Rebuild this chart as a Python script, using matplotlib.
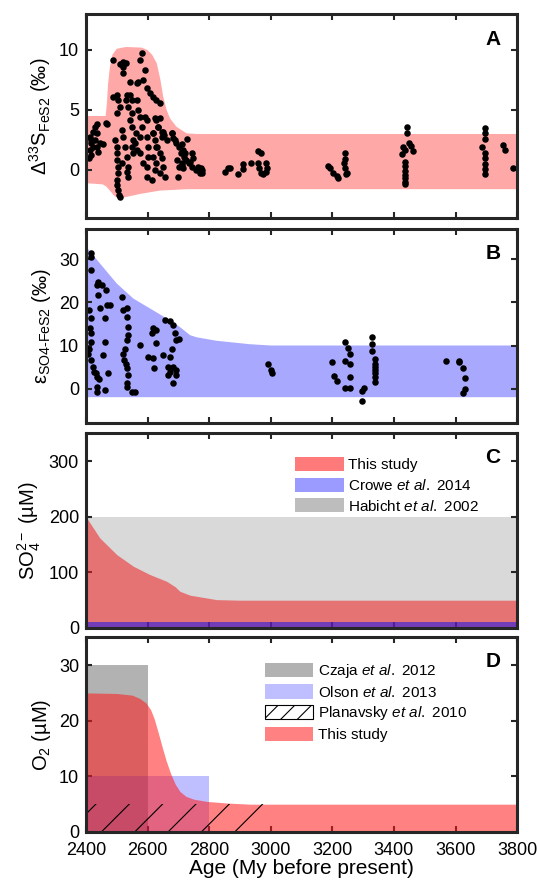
import matplotlib
matplotlib.use("Agg")
import matplotlib.pyplot as plt
from matplotlib.patches import Patch

# 4단 패널(A~D) 그림을 다시 그리는 코드.

plt.rcParams['font.family'] = ['Liberation Sans', 'DejaVu Sans']
plt.rcParams['mathtext.fontset'] = 'custom'
plt.rcParams['mathtext.rm'] = 'Liberation Sans'
plt.rcParams['mathtext.it'] = 'Liberation Sans:italic'
plt.rcParams['mathtext.bf'] = 'Liberation Sans:bold'
plt.rcParams['hatch.linewidth'] = 0.8

# ---------------- 데이터 ----------------
AGE_TICKS = [2400, 2600, 2800, 3000, 3200, 3400, 3600, 3800]

# A: Δ33S 범위 (위/아래 경계)
A_UPPER_AGE = [2400, 2464, 2468, 2472, 2478, 2486, 2500, 2530, 2580, 2600, 2615, 2630, 2642, 2651, 2662, 2673, 2694, 2727, 2760, 3800]
A_UPPER = [4.5, 4.5, 5.5, 7.2, 8.6, 9.6, 10.1, 10.25, 10.2, 10.0, 9.6, 8.9, 7.5, 6.1, 5.0, 4.3, 3.6, 3.05, 3.0, 3.0]
A_LOWER_AGE = [2400, 2455, 2467, 2494, 2510, 2540, 2575, 2640, 2727, 3800]
A_LOWER = [-1.1, -1.2, -1.4, -2.2, -2.35, -2.2, -2.0, -1.72, -1.6, -1.6]

# A: 시료 점
A_AGE = [2413, 2415, 2413, 2418, 2411, 2424, 2429, 2435, 2437, 2429, 2435, 2440, 2424, 2445, 2418, 2465, 2469, 2456,
         2489, 2500, 2505, 2510, 2502, 2494, 2500, 2500, 2502, 2505, 2505, 2500, 2502, 2505, 2508, 2510, 2516,
         2516, 2521, 2527, 2532, 2537, 2537, 2532, 2530, 2534, 2543, 2548, 2537, 2548, 2543, 2521, 2521, 2521, 2530,
         2489, 2510, 2543, 2551, 2554, 2548, 2559, 2554, 2565, 2570, 2575, 2581, 2586, 2591, 2597, 2565, 2570, 2575,
         2581, 2562, 2567, 2575, 2586, 2575, 2591, 2597, 2597, 2602, 2602, 2597, 2597, 2608, 2618, 2629, 2640, 2629,
         2635, 2618, 2624, 2629, 2618, 2629, 2624, 2613, 2640, 2651, 2656, 2646, 2651, 2662, 2678, 2683, 2692, 2702,
         2708, 2697, 2702, 2713, 2718, 2724, 2735, 2746, 2757, 2770, 2775, 2624, 2640, 2635, 2619, 2646, 2653, 2678,
         2689, 2711, 2727, 2716, 2721, 2743, 2749, 2738, 2765, 2776, 2776, 2711, 2716, 2700, 2630, 2640, 2646,
         2851, 2862, 2868, 2895, 2909, 2911, 2935, 2960, 2967, 2960, 2963, 2967, 2976, 2985, 2987, 2985,
         3187, 3192, 3203, 3214, 3219, 3241, 3241, 3238, 3241, 3247, 3244,
         3444, 3444, 3450, 3454, 3463, 3431, 3425, 3436, 3436, 3436, 3436, 3436, 3436, 3436, 3436,
         3696, 3696, 3696, 3685, 3696, 3696, 3696, 3696, 3696, 3755, 3761, 3788]
A_D33S = [2.78, 2.22, 1.67, 1.25, 0.97, 3.19, 3.61, 3.83, 3.06, 2.5, 1.94, 1.53, 1.94, 2.22, 2.5, 3.89, 3.83, 2.17,
          6.11, 6.25, 5.83, 5.28, 4.72, 2.5, 1.94, 1.39, 0.83, 0.28, -0.28, -0.83, -1.25, -1.67, -2.08, -2.28, 0.56,
          3.33, 2.78, 1.94, 1.11, 0.28, -0.56, -0.14, 5.83, 6.25, 6.25, 5.83, 5.28, 4.72, 7.36, 8.06, 8.61, 9.03, 8.89,
          9.17, 8.83, 4.17, 3.61, 2.5, 1.94, 2.22, 1.39, 7.22, 7.36, 9.17, 9.72, 7.5, 8.33, 6.81, 5.83, 5.0, 4.44,
          3.61, 3.06, 1.67, 1.39, 0.56, 2.78, 4.44, 4.17, 2.78, 1.94, 1.11, 0.28, -0.56, 6.39, 6.11, 5.83, 5.56, 4.17,
          3.61, 3.06, 2.5, 1.94, 1.11, 0.56, 0.0, -0.83, -0.28, 0.28, -0.56, 2.78, 3.19, 2.5, 3.06, 2.64, 2.22, 1.94,
          1.39, 0.83, 0.28, 0.42, 1.11, 0.83, 0.56, 0.28, 0.0, -0.28, 0.14, 4.3, 4.3, 3.6, 3.05, 3.2, 2.9, 3.1,
          2.5, 2.2, 2.6, 1.67, 1.4, 1.4, 0.97, 0.7, 0.28, 0.0, -0.28, 0.55, 0.14, -0.55, 1.95, 1.4, 0.97,
          -0.14, 0.14, 0.14, -0.33, 0.06, 0.5, 0.6, 1.6, 1.4, 0.55, 0.14, -0.28, -0.33, 0.55, 0.14, -0.14,
          0.33, 0.14, -0.28, -0.5, -0.7, 1.45, 0.89, 0.55, 0.14, -0.22, -0.33,
          3.55, 3.1, 2.28, 2.0, 1.6, 1.9, 1.33, 1.67, 0.7, 0.33, -0.05, -0.42, -0.7, -0.97, -1.17,
          3.47, 3.1, 2.56, 1.95, 1.45, 0.97, 0.5, 0.06, -0.33, 2.08, 1.67, 0.14]

# B: ε 범위
B_UPPER_AGE = [2400, 2445, 2500, 2554, 2608, 2662, 2705, 2738, 2760, 2824, 2932, 3000, 3800]
B_UPPER = [33, 29.1, 24.4, 20.9, 18.6, 16.3, 14.3, 12.4, 11.9, 11.1, 10.3, 10.0, 10.0]
B_LOWER_AGE = [2400, 3800]
B_LOWER = [-2, -2]

# B: 시료 점
B_AGE = [2415, 2418, 2418, 2411, 2415, 2413, 2415, 2418, 2411, 2408, 2415, 2422, 2426, 2432, 2437, 2443, 2435, 2435,
         2440, 2435, 2451, 2465, 2440, 2445, 2467, 2478, 2461, 2461, 2456, 2473, 2461,
         2516, 2519, 2532, 2532, 2535, 2535, 2532, 2527, 2521, 2524, 2530, 2532, 2535, 2532, 2532, 2548, 2559,
         2575, 2602, 2618, 2621, 2613, 2618, 2627, 2629, 2651, 2656, 2673, 2684, 2689, 2678, 2694, 2702, 2673,
         2667, 2673, 2684, 2694, 2691, 2684, 2667,
         2992, 3000, 3003, 3198, 3205, 3214, 3241, 3250, 3259, 3241, 3259, 3259, 3241, 3259, 3295, 3303, 3295,
         3330, 3330, 3330, 3338, 3338, 3338, 3338, 3338, 3338, 3338, 3569, 3612, 3612, 3623, 3631, 3631, 3625]
B_EPS = [31.4, 30.6, 27.5, 18.2, 16.3, 14.0, 12.8, 10.9, 9.3, 8.1, 6.6, 5.0, 3.9, 3.5, 2.7, 2.3, 0.4, -0.8,
         24.8, 24.0, 24.0, 22.9, 21.7, 18.8, 19.4, 19.4, 16.3, 10.9, 7.8, 3.5, -0.4,
         21.3, 18.2, 18.8, 16.7, 14.3, 12.4, 11.2, 9.3, 8.1, 6.6, 5.8, 4.7, 3.1, 1.2, 0.4, -0.8, -0.8,
         10.1, 7.4, 7.0, 4.7, 12.8, 14.0, 13.6, 10.5, 7.8, 15.9, 15.7, 14.7, 12.8, 9.3, 11.2, 11.6, 7.4,
         5.0, 3.9, 5.0, 4.3, 3.1, 1.2, 3.1,
         5.7, 4.2, 3.5, 6.1, 3.0, 1.7, 10.7, 9.5, 8.0, 6.5, 5.7, 2.8, 0.16, 0.16, -0.5, 0.16, -2.9,
         12.0, 10.3, 8.8, 6.9, 5.7, 5.0, 4.2, 3.5, 2.6, 1.6, 6.5, 6.5, 6.1, 4.8, 2.5, -0.2, -1.1]

# C: 황산염 농도 범위
C_HABICHT = [0, 200]
C_CROWE = [0, 10]
C_STUDY_AGE = [2400, 2445, 2500, 2554, 2608, 2662, 2690, 2705, 2738, 2824, 2900, 3800]
C_STUDY_UPPER = [200, 162, 132, 111, 96, 84, 74, 66, 59, 51, 50, 50]

# D: 산소 농도 범위
D_CZAJA_AGE = [2400, 2600]
D_CZAJA = [0, 30]
D_OLSON_AGE = [2400, 2800]
D_OLSON = [0, 10]
D_PLANAVSKY_AGE = [2400, 2980]
D_PLANAVSKY = [0, 5]
D_STUDY_AGE = [2400, 2500, 2550, 2575, 2595, 2610, 2622, 2635, 2648, 2660, 2675, 2690, 2705, 2725, 2750, 2792, 2860, 2933, 3800]
D_STUDY_UPPER = [25, 24.9, 24.6, 24.0, 23.2, 22.0, 20.3, 17.8, 15.2, 12.9, 10.5, 8.6, 7.3, 6.4, 5.9, 5.5, 5.2, 5.0, 5.0]

# ---------------- 그리기 ----------------
fig = plt.figure(figsize=(5.37, 8.85), dpi=100)

LEFT = 0.160
WIDTH = 0.803
ax_a = fig.add_axes([LEFT, 0.7537, WIDTH, 0.2305])
ax_b = fig.add_axes([LEFT, 0.522, WIDTH, 0.219])
ax_c = fig.add_axes([LEFT, 0.2904, WIDTH, 0.220])
ax_d = fig.add_axes([LEFT, 0.0599, WIDTH, 0.220])

YLABEL_SIZE = 14.5
DOT_SIZE = 22

# 위/아래 경계를 이어 닫힌 다각형으로 만들어 채운다
ax_a.fill(A_UPPER_AGE + A_LOWER_AGE[::-1], A_UPPER + A_LOWER[::-1], color='#ffa8a8', lw=0, zorder=1)
ax_a.scatter(A_AGE, A_D33S, s=DOT_SIZE, color='black', lw=0, zorder=3)
ax_a.set_ylim(-4, 13)
ax_a.set_yticks([0, 5, 10])
ax_a.set_ylabel(r'$\Delta^{33}$S$_{\mathrm{FeS2}}$ (‰)', fontsize=YLABEL_SIZE)

ax_b.fill(B_UPPER_AGE + B_LOWER_AGE[::-1], B_UPPER + B_LOWER[::-1], color='#a8a8ff', lw=0, zorder=1)
ax_b.scatter(B_AGE, B_EPS, s=DOT_SIZE, color='black', lw=0, zorder=3)
ax_b.set_ylim(-8, 37)
ax_b.set_yticks([0, 10, 20, 30])
ax_b.set_ylabel(r'ε$_{\mathrm{SO4{‐}FeS2}}$ (‰)', fontsize=YLABEL_SIZE)

# C: 회색(Habicht) 위에 붉은 영역, 그 위에 얇은 파란 띠
ax_c.fill_between([2400, 3800], C_HABICHT[0], C_HABICHT[1], color='#d9d9d9', lw=0, zorder=1)
ax_c.fill_between(C_STUDY_AGE, 0, C_STUDY_UPPER, color=(0.95, 0.12, 0.12), alpha=0.55, lw=0, zorder=2)
ax_c.fill_between([2400, 3800], C_CROWE[0], C_CROWE[1], color=(0.15, 0.1, 0.9), alpha=0.6, lw=0, zorder=3)
ax_c.set_ylim(0, 350)
ax_c.set_yticks([0, 100, 200, 300])
ax_c.set_ylabel(r'SO$_4^{2-}$ (µM)', fontsize=YLABEL_SIZE)
c_handles = [Patch(facecolor='#ff7b7b', edgecolor='none'),
             Patch(facecolor='#9b9bff', edgecolor='none'),
             Patch(facecolor='#bdbdbd', edgecolor='none')]
ax_c.legend(c_handles, ['This study', r'Crowe $\it{et\ al.}$ 2014', r'Habicht $\it{et\ al.}$ 2002'],
            loc='upper left', bbox_to_anchor=(0.47, 0.91), frameon=False, fontsize=11,
            handlelength=3.2, handleheight=1.05, handletextpad=0.3, labelspacing=0.35, borderaxespad=0)

# D: 회색, 파랑, 붉은 영역, 빗금
czaja = ax_d.fill_between(D_CZAJA_AGE, D_CZAJA[0], D_CZAJA[1], color=(0.5, 0.5, 0.5), alpha=0.6, lw=0, zorder=1)
olson = ax_d.fill_between(D_OLSON_AGE, D_OLSON[0], D_OLSON[1], color=(0, 0, 1), alpha=0.25, lw=0, zorder=2)
study = ax_d.fill_between(D_STUDY_AGE, 0, D_STUDY_UPPER, color=(1, 0.1, 0.1), alpha=0.55, lw=0, zorder=3)
ax_d.fill_between(D_PLANAVSKY_AGE, D_PLANAVSKY[0], D_PLANAVSKY[1], facecolor='none', edgecolor='black',
                  hatch='/', lw=0, zorder=4)
plan_handle = Patch(facecolor='white', edgecolor='black', hatch='//', lw=0.8)
ax_d.legend([czaja, olson, plan_handle, study],
            [r'Czaja $\it{et\ al.}$ 2012', r'Olson $\it{et\ al.}$ 2013', r'Planavsky $\it{et\ al.}$ 2010', 'This study'],
            loc='upper left', bbox_to_anchor=(0.40, 0.905), frameon=False, fontsize=11,
            handlelength=3.2, handleheight=1.05, handletextpad=0.3, labelspacing=0.3, borderaxespad=0)
ax_d.set_ylim(0, 35)
ax_d.set_yticks([0, 10, 20, 30])
ax_d.set_ylabel(r'O$_2$ (µM)', fontsize=YLABEL_SIZE)
ax_d.set_xlabel('Age (My before present)', fontsize=15, labelpad=0)

# 공통 축 꾸밈
for ax, letter in zip([ax_a, ax_b, ax_c, ax_d], ['A', 'B', 'C', 'D']):
    ax.set_xlim(2400, 3800)
    ax.set_xticks(AGE_TICKS)
    ax.tick_params(direction='in', top=True, right=True, length=4, width=1.5, color='#262626')
    ax.tick_params(axis='y', labelsize=13, pad=5)
    ax.tick_params(axis='x', labelsize=13, pad=7)
    for spine in ax.spines.values():
        spine.set_linewidth(2.2)
        spine.set_color('#262626')
        spine.set_zorder(5)
    if ax is not ax_d:
        ax.set_xticklabels([])
    ax.text(0.962, 0.875, letter, transform=ax.transAxes, ha='right', va='center',
            fontsize=15, fontweight='bold', zorder=6)

fig.savefig('out.png', dpi=100)
